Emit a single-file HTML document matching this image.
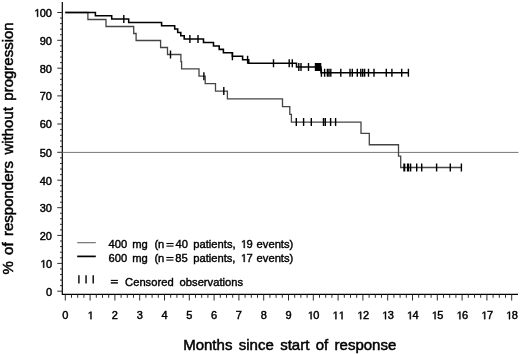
<!DOCTYPE html>
<html><head><meta charset="utf-8"><style>
html,body{margin:0;padding:0;background:#fff;}
svg{display:block;will-change:transform;}
text{font-family:"Liberation Sans",sans-serif;fill:#000;stroke:#000;}
.tl{font-size:11px;stroke-width:0.45px;}
.lg{font-size:11.2px;stroke-width:0.4px;}
.at{font-size:15px;word-spacing:2.2px;stroke-width:0.5px;}
</style></head><body>
<svg width="520" height="354" viewBox="0 0 520 354">
<path d="M62.3 2V294.3H518" fill="none" stroke="#000" stroke-width="1.2"/>
<path d="M57.3 291.20H62.3 M60.0 285.64H62.3 M60.0 280.08H62.3 M60.0 274.52H62.3 M60.0 268.96H62.3 M57.3 263.40H62.3 M60.0 257.80H62.3 M60.0 252.20H62.3 M60.0 246.60H62.3 M60.0 241.00H62.3 M57.3 235.40H62.3 M60.0 229.86H62.3 M60.0 224.32H62.3 M60.0 218.78H62.3 M60.0 213.24H62.3 M57.3 207.70H62.3 M60.0 202.20H62.3 M60.0 196.70H62.3 M60.0 191.20H62.3 M60.0 185.70H62.3 M57.3 180.20H62.3 M60.0 174.62H62.3 M60.0 169.04H62.3 M60.0 163.46H62.3 M60.0 157.88H62.3 M57.3 152.30H62.3 M60.0 146.64H62.3 M60.0 140.98H62.3 M60.0 135.32H62.3 M60.0 129.66H62.3 M57.3 124.00H62.3 M60.0 118.38H62.3 M60.0 112.76H62.3 M60.0 107.14H62.3 M60.0 101.52H62.3 M57.3 95.90H62.3 M60.0 90.36H62.3 M60.0 84.82H62.3 M60.0 79.28H62.3 M60.0 73.74H62.3 M57.3 68.20H62.3 M60.0 62.62H62.3 M60.0 57.04H62.3 M60.0 51.46H62.3 M60.0 45.88H62.3 M57.3 40.30H62.3 M60.0 34.74H62.3 M60.0 29.18H62.3 M60.0 23.62H62.3 M60.0 18.06H62.3 M57.3 12.50H62.3" stroke="#222" stroke-width="0.95"/>
<path d="M65.30 294.3V300.5 M71.50 294.3V297.8 M77.70 294.3V297.8 M83.90 294.3V297.8 M90.10 294.3V300.5 M96.30 294.3V297.8 M102.50 294.3V297.8 M108.70 294.3V297.8 M114.90 294.3V300.5 M121.10 294.3V297.8 M127.30 294.3V297.8 M133.50 294.3V297.8 M139.70 294.3V300.5 M145.90 294.3V297.8 M152.10 294.3V297.8 M158.30 294.3V297.8 M164.50 294.3V300.5 M170.70 294.3V297.8 M176.90 294.3V297.8 M183.10 294.3V297.8 M189.30 294.3V300.5 M195.50 294.3V297.8 M201.70 294.3V297.8 M207.90 294.3V297.8 M214.10 294.3V300.5 M220.30 294.3V297.8 M226.50 294.3V297.8 M232.70 294.3V297.8 M238.90 294.3V300.5 M245.10 294.3V297.8 M251.30 294.3V297.8 M257.50 294.3V297.8 M263.70 294.3V300.5 M269.90 294.3V297.8 M276.10 294.3V297.8 M282.30 294.3V297.8 M288.50 294.3V300.5 M294.70 294.3V297.8 M300.90 294.3V297.8 M307.10 294.3V297.8 M313.30 294.3V300.5 M319.50 294.3V297.8 M325.70 294.3V297.8 M331.90 294.3V297.8 M338.10 294.3V300.5 M344.30 294.3V297.8 M350.50 294.3V297.8 M356.70 294.3V297.8 M362.90 294.3V300.5 M369.10 294.3V297.8 M375.30 294.3V297.8 M381.50 294.3V297.8 M387.70 294.3V300.5 M393.90 294.3V297.8 M400.10 294.3V297.8 M406.30 294.3V297.8 M412.50 294.3V300.5 M418.70 294.3V297.8 M424.90 294.3V297.8 M431.10 294.3V297.8 M437.30 294.3V300.5 M443.50 294.3V297.8 M449.70 294.3V297.8 M455.90 294.3V297.8 M462.10 294.3V300.5 M468.30 294.3V297.8 M474.50 294.3V297.8 M480.70 294.3V297.8 M486.90 294.3V300.5 M493.10 294.3V297.8 M499.30 294.3V297.8 M505.50 294.3V297.8 M511.70 294.3V300.5" stroke="#222" stroke-width="0.95"/>
<text x="45.88" y="295.50" class="tl">0</text>
<path d="M640 0V1237L322 1010V1180L655 1409H821V0Z" transform="translate(39.76 267.70) scale(0.00537 -0.00537)" stroke="#000" stroke-width="83.8" stroke-linejoin="round"/><text x="45.88" y="267.70" class="tl">0</text>
<text x="39.76" y="239.70" class="tl">20</text>
<text x="39.76" y="212.00" class="tl">30</text>
<text x="39.76" y="184.50" class="tl">40</text>
<text x="39.76" y="156.60" class="tl">50</text>
<text x="39.76" y="128.30" class="tl">60</text>
<text x="39.76" y="100.20" class="tl">70</text>
<text x="39.76" y="72.50" class="tl">80</text>
<text x="39.76" y="44.60" class="tl">90</text>
<path d="M640 0V1237L322 1010V1180L655 1409H821V0Z" transform="translate(33.65 16.80) scale(0.00537 -0.00537)" stroke="#000" stroke-width="83.8" stroke-linejoin="round"/><text x="39.76" y="16.80" class="tl">00</text>
<text x="62.24" y="319.20" class="tl">0</text>
<path d="M640 0V1237L322 1010V1180L655 1409H821V0Z" transform="translate(87.04 319.20) scale(0.00537 -0.00537)" stroke="#000" stroke-width="83.8" stroke-linejoin="round"/>
<text x="111.84" y="319.20" class="tl">2</text>
<text x="136.64" y="319.20" class="tl">3</text>
<text x="161.44" y="319.20" class="tl">4</text>
<text x="186.24" y="319.20" class="tl">5</text>
<text x="211.04" y="319.20" class="tl">6</text>
<text x="235.84" y="319.20" class="tl">7</text>
<text x="260.64" y="319.20" class="tl">8</text>
<text x="285.44" y="319.20" class="tl">9</text>
<path d="M640 0V1237L322 1010V1180L655 1409H821V0Z" transform="translate(307.18 319.20) scale(0.00537 -0.00537)" stroke="#000" stroke-width="83.8" stroke-linejoin="round"/><text x="313.30" y="319.20" class="tl">0</text>
<path d="M640 0V1237L322 1010V1180L655 1409H821V0Z" transform="translate(331.98 319.20) scale(0.00537 -0.00537)" stroke="#000" stroke-width="83.8" stroke-linejoin="round"/><path d="M640 0V1237L322 1010V1180L655 1409H821V0Z" transform="translate(338.10 319.20) scale(0.00537 -0.00537)" stroke="#000" stroke-width="83.8" stroke-linejoin="round"/>
<path d="M640 0V1237L322 1010V1180L655 1409H821V0Z" transform="translate(356.78 319.20) scale(0.00537 -0.00537)" stroke="#000" stroke-width="83.8" stroke-linejoin="round"/><text x="362.90" y="319.20" class="tl">2</text>
<path d="M640 0V1237L322 1010V1180L655 1409H821V0Z" transform="translate(381.58 319.20) scale(0.00537 -0.00537)" stroke="#000" stroke-width="83.8" stroke-linejoin="round"/><text x="387.70" y="319.20" class="tl">3</text>
<path d="M640 0V1237L322 1010V1180L655 1409H821V0Z" transform="translate(406.38 319.20) scale(0.00537 -0.00537)" stroke="#000" stroke-width="83.8" stroke-linejoin="round"/><text x="412.50" y="319.20" class="tl">4</text>
<path d="M640 0V1237L322 1010V1180L655 1409H821V0Z" transform="translate(431.18 319.20) scale(0.00537 -0.00537)" stroke="#000" stroke-width="83.8" stroke-linejoin="round"/><text x="437.30" y="319.20" class="tl">5</text>
<path d="M640 0V1237L322 1010V1180L655 1409H821V0Z" transform="translate(455.98 319.20) scale(0.00537 -0.00537)" stroke="#000" stroke-width="83.8" stroke-linejoin="round"/><text x="462.10" y="319.20" class="tl">6</text>
<path d="M640 0V1237L322 1010V1180L655 1409H821V0Z" transform="translate(480.78 319.20) scale(0.00537 -0.00537)" stroke="#000" stroke-width="83.8" stroke-linejoin="round"/><text x="486.90" y="319.20" class="tl">7</text>
<path d="M640 0V1237L322 1010V1180L655 1409H821V0Z" transform="translate(505.58 319.20) scale(0.00537 -0.00537)" stroke="#000" stroke-width="83.8" stroke-linejoin="round"/><text x="511.70" y="319.20" class="tl">8</text>
<path d="M62.3 152.4H518.5" stroke="#777" stroke-width="1"/>
<path d="M65.3 12.50H87.9V19.50H106.0V26.50H133.7V33.50H136.1V40.50H160.6V47.50H167.5V54.50H180.9V61.72H181.6V68.92H199.0V76.14H205.2V83.59H215.5V91.07H227.4V98.82H282.5V106.55H289.8V114.31H291.4V122.06H361.0V133.43H369.3V144.77H398.5V156.14H400.7V167.51H461.4" fill="none" stroke="#444" stroke-width="1.3"/>
<path d="M65.3 12.50H95.4V15.79H111.7V19.09H128.7V22.42H161.6V25.76H174.7V29.09H177.7V32.42H180.8V35.76H184.2V39.09H203.5V42.52H213.5V45.94H219.2V49.37H223.4V52.79H232.4V56.22H242.6V59.69H248.7V63.22H296.5V66.92H321.0V72.84H408.4" fill="none" stroke="#000" stroke-width="1.55"/>
<path d="M170.5 50.50v8M203.9 72.14v8M223.8 87.07v8M296.3 118.06v8M303.6 118.06v8M311.3 118.06v8M323.5 118.06v8M325.3 118.06v8M330.6 118.06v8M335.6 118.06v8M404.0 163.51v8M404.6 163.51v8M407.6 163.51v8M408.5 163.51v8M410.6 163.51v8M416.7 163.51v8M421.7 163.51v8M436.6 163.51v8M450.3 163.51v8M461.4 163.51v8" stroke="#000" stroke-width="1.4"/>
<path d="M123.8 15.09v8M189.9 35.09v8M198.0 35.09v8M232.4 52.22v8M247.6 55.69v8M273.5 59.22v8M289.2 59.22v8M292.3 59.22v8M298.8 62.92v8M301.0 62.92v8M308.5 62.92v8M315.5 62.92v8M316.8 62.92v8M318.0 62.92v8M319.3 62.92v8M320.6 62.92v8M321.4 68.84v8M324.6 68.84v8M327.4 68.84v8M329.0 68.84v8M330.8 68.84v8M340.8 68.84v8M350.0 68.84v8M352.3 68.84v8M357.3 68.84v8M360.8 68.84v8M362.7 68.84v8M364.6 68.84v8M368.5 68.84v8M374.0 68.84v8M386.3 68.84v8M391.9 68.84v8M401.7 68.84v8M408.4 68.84v8" stroke="#000" stroke-width="1.4"/>
<path d="M77.2 242.7H95.8" stroke="#666" stroke-width="1.1"/>
<path d="M77.2 256.4H95.8" stroke="#000" stroke-width="1.7"/>
<path d="M78.9 275.2v8.3M86.05 275.2v8.3M93.2 275.2v8.3" stroke="#000" stroke-width="1.4"/>
<text x="108.5" y="248.0" class="lg">400</text><text x="132.15" y="248.0" class="lg">mg</text><text x="154.4" y="248.0" class="lg">(n</text><text x="175.5" y="248.0" class="lg">40</text><text x="193.3" y="248.0" class="lg">patients,</text><text x="256.6" y="248.0" class="lg">events)</text>
<rect x="166.4" y="242.95" width="7.20" height="1.1"/><rect x="166.4" y="245.55" width="7.20" height="1.1"/>
<path d="M640 0V1237L322 1010V1180L655 1409H821V0Z" transform="translate(240.25 248.00) scale(0.00547 -0.00547)" stroke="#000" stroke-width="73.1" stroke-linejoin="round"/><text x="246.48" y="248.00" class="lg">9</text>
<text x="108.6" y="262.0" class="lg">600</text><text x="132.15" y="262.0" class="lg">mg</text><text x="154.4" y="262.0" class="lg">(n</text><text x="175.2" y="262.0" class="lg">85</text><text x="193.2" y="262.0" class="lg">patients,</text><text x="256.6" y="262.0" class="lg">events)</text>
<rect x="166.3" y="256.95" width="7.20" height="1.1"/><rect x="166.3" y="259.55" width="7.20" height="1.1"/>
<path d="M640 0V1237L322 1010V1180L655 1409H821V0Z" transform="translate(240.20 262.00) scale(0.00547 -0.00547)" stroke="#000" stroke-width="73.1" stroke-linejoin="round"/><text x="246.43" y="262.00" class="lg">7</text>
<rect x="110.8" y="279.85" width="7.10" height="1.1"/><rect x="110.8" y="282.20" width="7.10" height="1.4"/>
<text x="125.1" y="285.5" class="lg">Censored</text><text x="179.6" y="285.5" class="lg">observations</text>
<text x="183.2" y="349.6" class="at">Months since start of response</text>
<text transform="translate(12.6 274.6) rotate(-90)" class="at">% of responders without progression</text>
</svg>
</body></html>
